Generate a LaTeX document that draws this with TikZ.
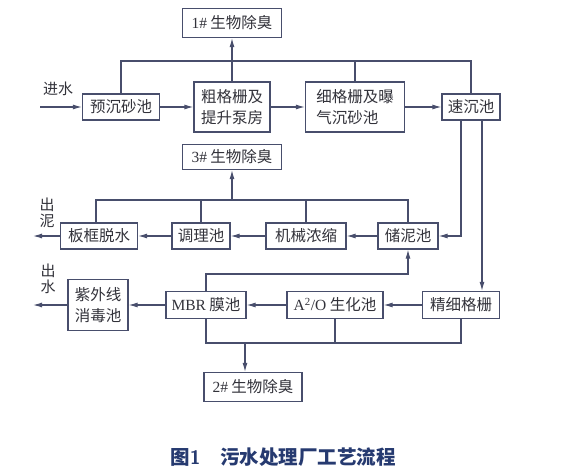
\documentclass[tikz,border=0pt]{standalone}
\usepackage{fontspec}
\setmainfont{Liberation Serif}
\newfontfamily\cjk{Noto Sans CJK SC}
\usetikzlibrary{calc, arrows.meta}
\definecolor{linec}{RGB}{72,78,108}
\definecolor{txtc}{RGB}{50,50,58}
\definecolor{capc}{RGB}{38,58,112}
\tikzset{
	box/.style={draw=linec, line width=1.1pt, text=txtc, inner sep=2pt, minimum height=26, font=\cjk\fontsize{15.5}{21}\selectfont},
	lbl/.style={text=txtc, inner sep=0pt, align=center, font=\cjk\fontsize{15}{16}\selectfont},
	line/.style={draw=linec, line width=1.1pt},
	tip/.style={-{Latex[length=9pt, width=5pt]}}
}
\begin{document}
\begin{tikzpicture}[x=1pt, y=-1pt]
		\useasboundingbox (0, 0) rectangle (579, 474);
		% first row
		\node (bio1)at (232, 23)[box, minimum width=99, minimum height=29]{{\rmfamily 1\#} 生物除臭};
		\node (ycs)at (121, 107)[box, minimum width=77]{预沉砂池};
		\node (cgs)at (232, 107)[box, minimum width=76, minimum height=50, align=left]{粗格栅及\\提升泵房};
		\node (xgs)at (355, 107)[box, minimum width=99, minimum height=50, align=left]{细格栅及曝\\气沉砂池};
		\node (scc)at (471, 107)[box, minimum width=58]{速沉池};
		\coordinate (in)at (40, 107);
		\node (jinshui)at (58, 89)[lbl]{进水};
		\coordinate (top)at (0, 61);
		\draw [line, tip](in)--(ycs);
		\draw [line, tip](ycs)--(cgs);
		\draw [line, tip](cgs)--(xgs);
		\draw [line, tip](xgs)--(scc);
		\draw [line](ycs.north)--(ycs.north |- top)--(scc.north |- top)--(scc.north);
		\draw [line](xgs.north)--(xgs.north |- top);
		\draw [line, tip](cgs.north)--(bio1.south);
		% sludge row
		\node (bio3)at (232, 157)[box, minimum width=99, minimum height=25]{{\rmfamily 3\#} 生物除臭};
		\node (bkts)at (99, 236)[box, minimum width=77]{板框脱水};
		\node (tlc)at (201, 236)[box, minimum width=58]{调理池};
		\node (jxns)at (306, 236)[box, minimum width=80]{机械浓缩};
		\node (cnc)at (408, 236)[box, minimum width=60]{储泥池};
		\coordinate (outn)at (33, 236);
		\node (chuni)at (47, 213)[lbl]{出\\泥};
		\coordinate (mid)at (0, 200);
		\draw [line, tip]([xshift=-10]scc.south)|-(cnc.east);
		\draw [line, tip](cnc)--(jxns);
		\draw [line, tip](jxns)--(tlc);
		\draw [line, tip](tlc)--(bkts);
		\draw [line, tip](bkts)--(outn);
		\draw [line]([xshift=-3]bkts.north)--([xshift=-3]bkts.north |- mid)--(cnc.north |- mid)--(cnc.north);
		\draw [line](tlc.north)--(tlc.north |- mid);
		\draw [line](jxns.north)--(jxns.north |- mid);
		\draw [line, tip](bio3.south |- mid)--(bio3.south);
		% water row
		\node (zwx)at (98, 305)[box, minimum width=60, minimum height=51, align=left]{紫外线\\消毒池};
		\node (mbr)at (206, 305)[box, minimum width=80, minimum height=27]{{\rmfamily MBR} 膜池};
		\node (a2o)at (335, 305)[box, minimum width=96, minimum height=27]{{\rmfamily A\textsuperscript{2}/O} 生化池};
		\node (jxg)at (461, 305)[box, minimum width=77, minimum height=27]{精细格栅};
		\node (bio2)at (253, 387)[box, minimum width=98, minimum height=29]{{\rmfamily 2\#} 生物除臭};
		\coordinate (outs)at (33, 305);
		\node (chushui)at (48, 279)[lbl]{出\\水};
		\coordinate (lnk)at (0, 274);
		\coordinate (bot)at (0, 343);
		\draw [line, tip]([xshift=11]scc.south)--(jxg.north -| {$(scc.south)+(11,0)$});
		\draw [line, tip](jxg)--(a2o);
		\draw [line, tip](a2o)--(mbr);
		\draw [line, tip](mbr)--(zwx);
		\draw [line, tip](zwx)--(outs);
		\draw [line, tip](mbr.north)--(mbr.north |- lnk)-|(cnc.south);
		\draw [line](mbr.south)--(mbr.south |- bot)--(jxg.south |- bot)--(jxg.south);
		\draw [line](a2o.south)--(a2o.south |- bot);
		\draw [line, tip]([xshift=-8]bio2.north |- bot)--([xshift=-8]bio2.north);
		% caption
		\node (cap)at (283, 457)[text=capc, font=\cjk\bfseries\fontsize{19.5}{22}\selectfont]{图{\sffamily 1}\quad 污水处理厂工艺流程};
	\end{tikzpicture}
\end{document}
